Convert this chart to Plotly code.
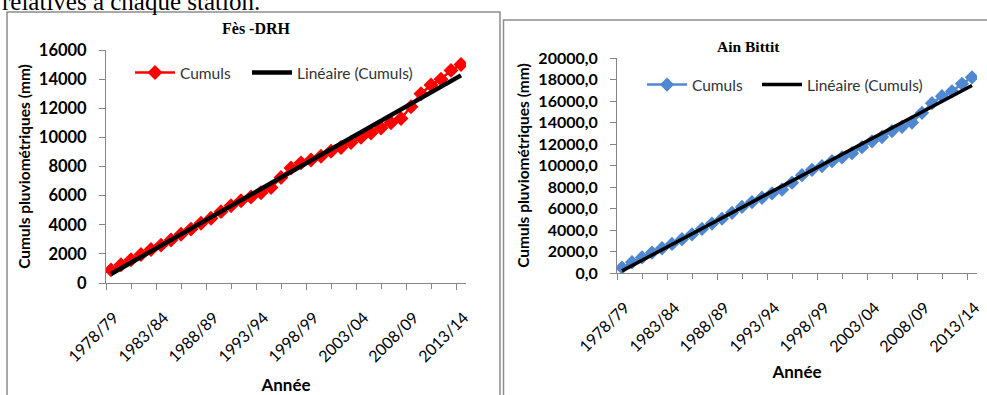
import numpy as np
import plotly.graph_objects as go

# ---------------- data ----------------
annees = ["1978/79", "1979/80", "1980/81", "1981/82", "1982/83", "1983/84", "1984/85",
          "1985/86", "1986/87", "1987/88", "1988/89", "1989/90", "1990/91", "1991/92",
          "1992/93", "1993/94", "1994/95", "1995/96", "1996/97", "1997/98", "1998/99",
          "1999/00", "2000/01", "2001/02", "2002/03", "2003/04", "2004/05", "2005/06",
          "2006/07", "2007/08", "2008/09", "2009/10", "2010/11", "2011/12", "2012/13",
          "2013/14"]

fes_cumuls = [900, 1250, 1600, 1950, 2300, 2600, 2950, 3350, 3700, 4100, 4450, 4900,
              5300, 5650, 5900, 6200, 6550, 7250, 7900, 8250, 8450, 8700, 9050, 9300,
              9650, 10000, 10300, 10650, 11000, 11300, 12100, 13000, 13600, 14000,
              14600, 15000]

ain_bittit_cumuls = [500, 1000, 1450, 1900, 2300, 2700, 3150, 3600, 4100, 4600, 5050,
                     5600, 6150, 6600, 7000, 7400, 7750, 8400, 9100, 9600, 9950, 10400,
                     10750, 11150, 11700, 12250, 12650, 13200, 13600, 14000, 14900,
                     15800, 16450, 16900, 17600, 18200]

titre_gauche = "Fès -DRH"
titre_droite = "Ain Bittit"
nom_serie = "Cumuls"
nom_tendance = "Linéaire (Cumuls)"
titre_y = "Cumuls pluviométriques (mm)"
titre_x = "Année"
texte_haut = "relatives à chaque station."

# ---------------- helpers ----------------
W, H = 987, 395
def px(x):
    return x / W
def py(y):
    return 1 - y / H

idx = np.arange(len(annees))
def tendance(vals):
    a, b = np.polyfit(idx, np.array(vals, dtype=float), 1)
    return a * idx + b

label_pos = idx[::5]
major_ticks = label_pos - 0.5
minor_ticks = label_pos[:-1] + 2.0
labels = [annees[i] for i in label_pos]

GRAY = "#868686"
SANS = "Lato"
RED = "#FF0000"
BLUE = "#4F87D0"

fig = go.Figure()

# left chart
fig.add_trace(go.Scatter(x=idx, y=fes_cumuls, mode="lines+markers", name=nom_serie,
                         text=annees, line=dict(color=RED, width=2.5),
                         marker=dict(symbol="diamond", size=11.5, color=RED),
                         xaxis="x", yaxis="y", legend="legend"))
fig.add_trace(go.Scatter(x=idx, y=tendance(fes_cumuls), mode="lines", name=nom_tendance,
                         line=dict(color="black", width=4.5),
                         xaxis="x", yaxis="y", legend="legend2"))
# right chart
fig.add_trace(go.Scatter(x=idx, y=ain_bittit_cumuls, mode="lines+markers", name=nom_serie,
                         text=annees, line=dict(color=BLUE, width=2.5),
                         marker=dict(symbol="diamond", size=11, color=BLUE),
                         xaxis="x2", yaxis="y2", legend="legend3"))
fig.add_trace(go.Scatter(x=idx, y=tendance(ain_bittit_cumuls), mode="lines", name=nom_tendance,
                         line=dict(color="black", width=3.5),
                         xaxis="x2", yaxis="y2", legend="legend4"))

def xaxis_cfg(x0, x1, anchor, title_standoff):
    return dict(domain=[px(x0), px(x1)], anchor=anchor, range=[-0.5, len(annees) - 0.5],
                automargin=False,
                tickmode="array", tickvals=major_ticks, ticktext=labels,
                ticks="outside", ticklen=6, tickcolor=GRAY, tickwidth=1,
                tickangle=-45, ticklabelshift=8, ticklabelstandoff=12,
                tickfont=dict(family=SANS, size=16, color="black"),
                minor=dict(tickmode="array", tickvals=minor_ticks, ticks="outside",
                           ticklen=5, tickcolor=GRAY, showgrid=False),
                showline=True, linecolor=GRAY, linewidth=1,
                showgrid=False, zeroline=False, fixedrange=True,
                title=dict(text=titre_x, font=dict(family=SANS, size=17, color="black", weight="bold"),
                           standoff=title_standoff))

def yaxis_cfg(y_top, y_bot, anchor, rmax, fmt, size):
    return dict(domain=[py(y_bot), py(y_top)], anchor=anchor, range=[0, rmax],
                automargin=False,
                dtick=2000, tick0=0, tickformat=fmt,
                ticks="outside", ticklen=6, tickcolor=GRAY, tickwidth=1,
                ticklabelstandoff=9,
                tickfont=dict(family=SANS, size=size, color="black", weight="bold"),
                showline=True, linecolor=GRAY, linewidth=1,
                showgrid=False, zeroline=False, fixedrange=True,
                title=dict(text=titre_y, font=dict(family=SANS, size=15.5, color="black", weight="bold"),
                           standoff=4))

def leg(x, y):
    return dict(orientation="h", x=px(x), y=py(y), xanchor="left", yanchor="middle",
                font=dict(family=SANS, size=15.5, color="#333333"), bgcolor="rgba(0,0,0,0)",
                borderwidth=0, itemwidth=40)

fig.update_layout(
    width=W, height=H, autosize=False,
    margin=dict(l=0, r=0, t=0, b=0, autoexpand=False),
    paper_bgcolor="white", plot_bgcolor="white",
    separators=",.",
    xaxis=xaxis_cfg(106, 466, "y", 15),
    yaxis=yaxis_cfg(50, 283, "x", 16000, "d", 16.5),
    xaxis2=xaxis_cfg(617, 977, "y2", 11),
    yaxis2=yaxis_cfg(58, 273, "x2", 20000, ".1f", 16),
    legend=leg(130, 73),
    legend2=leg(247, 73),
    legend3=leg(642, 85),
    legend4=leg(757, 85),
    showlegend=True,
    shapes=[
        dict(type="rect", xref="paper", yref="paper", x0=px(7), x1=px(500), y0=-0.05, y1=py(12),
             line=dict(color="#8c8c8c", width=1.5), layer="below"),
        dict(type="rect", xref="paper", yref="paper", x0=px(503.5), x1=1.02, y0=-0.05, y1=py(20),
             line=dict(color="#8c8c8c", width=1.5), layer="below"),
    ],
    annotations=[
        dict(text=titre_gauche, x=px(256), y=py(28), xref="paper", yref="paper",
             xanchor="center", yanchor="middle", showarrow=False,
             font=dict(family="Liberation Serif", size=16, color="black", weight="bold")),
        dict(text=titre_droite, x=px(748), y=py(47), xref="paper", yref="paper",
             xanchor="center", yanchor="middle", showarrow=False,
             font=dict(family="Liberation Serif", size=15.5, color="black", weight="bold")),
        dict(text=texte_haut, x=0, y=py(17), xref="paper", yref="paper",
             xanchor="left", yanchor="bottom", showarrow=False,
             font=dict(family="Liberation Serif", size=25, color="black")),
    ],
)

fig.write_html("out.html", config={"displayModeBar": False},
               post_script="document.body.style.margin='0';")
